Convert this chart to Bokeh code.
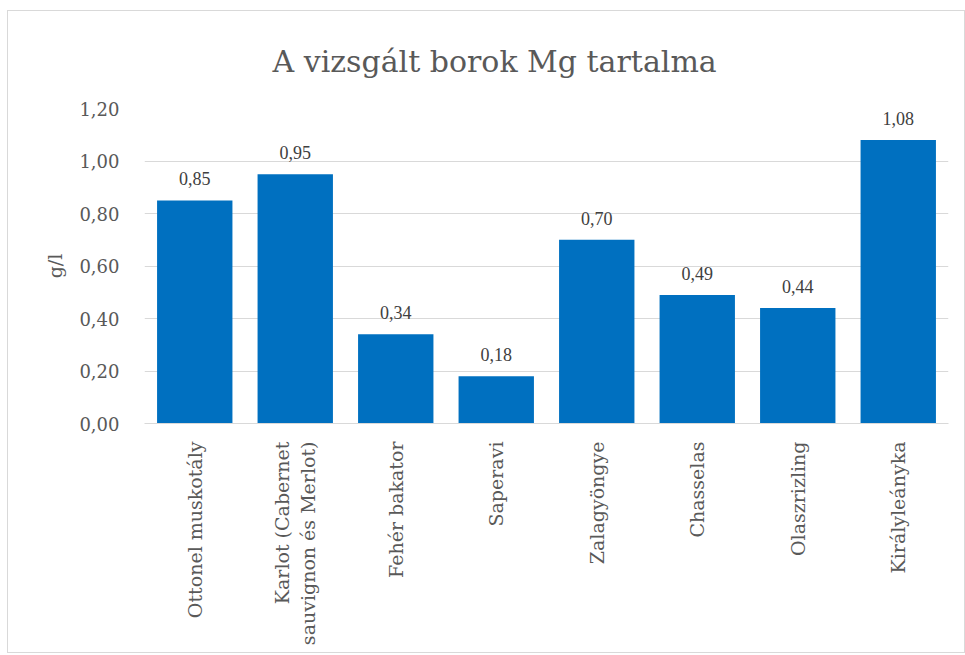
from math import pi
from bokeh.plotting import figure
from bokeh.models import ColumnDataSource, LabelSet, CustomJSTickFormatter, FixedTicker, Range1d
from bokeh.embed import file_html
from bokeh.resources import INLINE

categories = ["Ottonel muskotály", "Karlot (Cabernet\nsauvignon és Merlot)", "Fehér bakator",
              "Saperavi", "Zalagyöngye", "Chasselas", "Olaszrizling", "Királyleányka"]
values = [0.85, 0.95, 0.34, 0.18, 0.70, 0.49, 0.44, 1.08]
y_ticks = [0.0, 0.2, 0.4, 0.6, 0.8, 1.0, 1.2]

FONT = "DejaVu Serif"
GRAY = "#595959"

src = ColumnDataSource(dict(cat=categories, val=values,
                            lab=[f"{v:.2f}".replace(".", ",") for v in values]))

p = figure(x_range=categories, y_range=Range1d(0, 1.2), width=956, height=641,
           output_backend="svg", toolbar_location=None,
           min_border_left=136, min_border_right=16, min_border_top=97, min_border_bottom=229,
           title="A vizsgált borok Mg tartalma")
p.frame_width = 804
p.frame_height = 315

p.title.text_font = FONT
p.title.text_font_size = "30px"
p.title.text_font_style = "normal"
p.title.text_color = GRAY
p.title.align = "left"
p.title.offset = 128
p.title.standoff = 60

p.vbar(x="cat", top="val", width=0.75, source=src, color="#0070C0", line_color=None)

labels = LabelSet(x="cat", y="val", text="lab", source=src, text_align="center",
                  text_baseline="bottom", y_offset=15, text_font=FONT,
                  text_font_size="18px", text_color="#404040")
p.add_layout(labels)

p.yaxis.ticker = FixedTicker(ticks=y_ticks)
p.yaxis.formatter = CustomJSTickFormatter(code="return tick.toFixed(2).replace('.', ',');")
p.yaxis.axis_line_color = None
p.yaxis.major_tick_line_color = None
p.yaxis.minor_tick_line_color = None
p.yaxis.major_label_text_font = FONT
p.yaxis.major_label_text_font_size = "18px"
p.yaxis.major_label_text_color = GRAY
p.yaxis.major_label_standoff = 19
p.yaxis.axis_label = "g/l"
p.yaxis.axis_label_text_font = FONT
p.yaxis.axis_label_text_font_size = "19px"
p.yaxis.axis_label_text_font_style = "normal"
p.yaxis.axis_label_text_color = GRAY
p.yaxis.axis_label_standoff = 10

p.xaxis.axis_line_color = "#d9d9d9"
p.xaxis.major_tick_line_color = None
p.xaxis.minor_tick_line_color = None
p.xaxis.major_label_orientation = pi / 2
p.xaxis.major_label_text_font = FONT
p.xaxis.major_label_text_font_size = "19px"
p.xaxis.major_label_text_color = GRAY
p.xaxis.major_label_standoff = 12

p.xgrid.grid_line_color = None
p.ygrid.grid_line_color = "#d9d9d9"
p.ygrid.grid_line_width = 1
p.outline_line_color = None
p.styles = {"border": "1px solid #d9d9d9", "margin-left": "7px", "margin-top": "10px"}

open("out.html", "w").write(file_html(p, INLINE))
